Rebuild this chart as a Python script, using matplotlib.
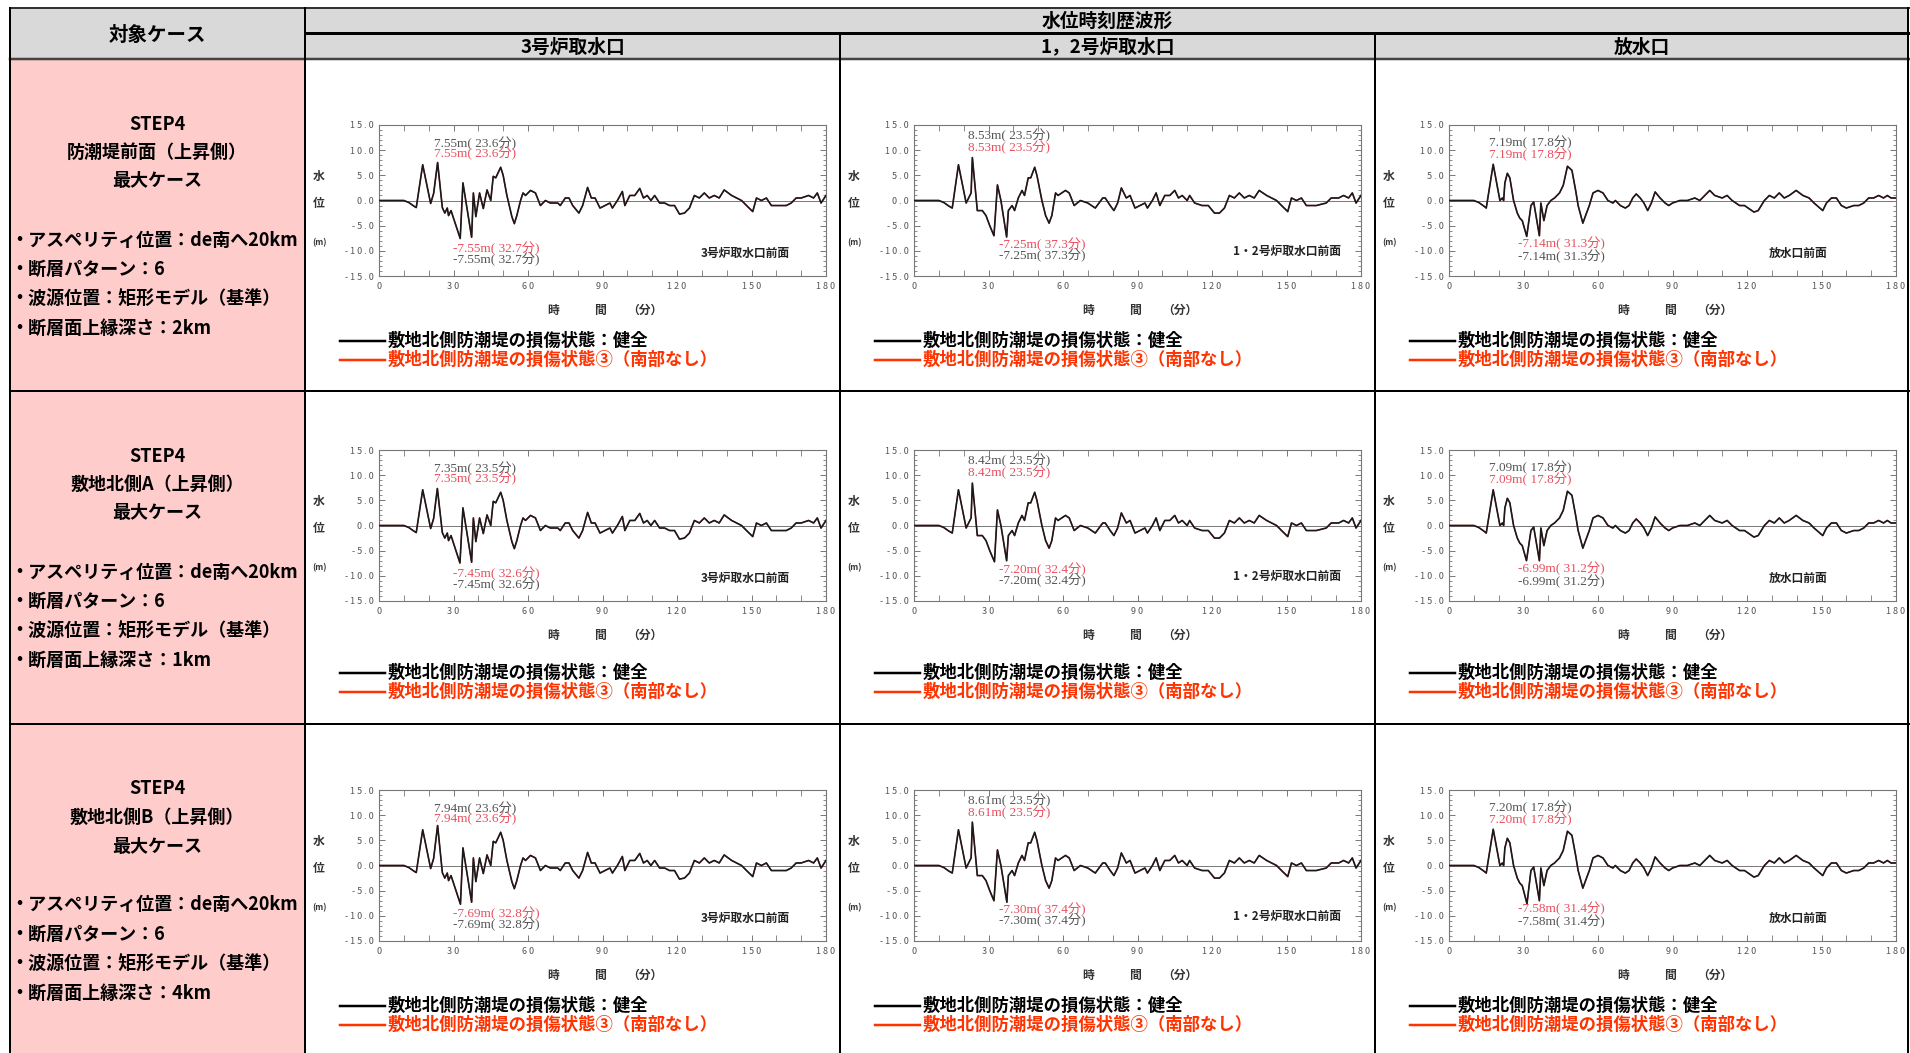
import numpy as np
import matplotlib.pyplot as plt
from matplotlib.ticker import MultipleLocator, FuncFormatter

plt.rcParams['font.family'] = ['Noto Sans CJK JP', 'DejaVu Sans']

W, H = 1910, 1053

# Table text
col_headers = ["3号炉取水口", "1，2号炉取水口", "放水口"]
place_labels = ["3号炉取水口前面", "1・2号炉取水口前面", "放水口前面"]
case_names = ["防潮堤前面（上昇側）", "敷地北側A（上昇側）", "敷地北側B（上昇側）"]
case_depths = ["2km", "1km", "4km"]
legend_labels = ["敷地北側防潮堤の損傷状態：健全", "敷地北側防潮堤の損傷状態③（南部なし）"]

# Water level traces (min, m), one per location
intake3_time = [0, 10, 12, 14, 15, 17.6, 20.8, 22, 23.6, 25.5, 26.5, 27.5, 28, 29, 32.7, 33.8,
                37.3, 38, 39, 40.5, 42, 43.5, 45, 46, 47, 49, 50, 51.5, 53.5, 54.5, 55.5, 57,
                58, 59, 61, 63, 65, 67, 69, 72, 73, 75, 76.5, 78, 80.5, 82, 84, 85.5, 87, 89,
                91, 93, 94, 96, 98, 99, 101, 103, 105, 106.5, 108, 109.5, 111, 113, 115, 117,
                119, 121, 123, 125, 127, 129, 131, 133, 135, 137, 139, 142, 144, 146, 148,
                150.5, 152, 154, 156, 158, 160, 162, 164, 166, 168, 170, 173, 175, 176.5, 178, 180]
intake3_level = [0, 0, -0.4, -1.1, -1.4, 7.1, -0.6, 1.4, 7.5, -1.4, -2.5, -1.5, -3.0, -2.0, -7.4, 3.5,
                 -7.3, 1.5, -3.2, 1.5, -1.6, 2.1, 0, 4.8, 4.5, 6.6, 5.0, 1.0, -3.2, -4.6, -3.0, 0,
                 1.5, 1.0, 2.0, 1.5, -1.0, 0, -0.5, -0.5, -1.0, 0.5, 0.5, -1.0, -2.5, -1.0, 2.6, 0.5, 0.5, -1.5,
                 -1.0, -0.5, -1.5, 0, 1.8, -1.0, 1.0, 1.0, 2.4, 0.5, 1.0, 0, 1.0, -0.5, -0.5, -1.0,
                 -1.0, -2.7, -2.5, -1.5, 1.0, 0.5, 1.5, 0.5, 1.0, 0.5, 2.1, 1.0, 0.5, 0, -1.0,
                 -2.2, 0.5, 0, 0.5, -1.0, -1.0, -1.0, -1.0, -0.5, 0.5, 0.5, 1.0, 0.5, 1.5, -0.5, 1.0]

intake12_time = [0, 10, 12, 14, 15.4, 17.9, 21, 22.5, 23, 23.5, 25.5, 27.5, 29, 30.5, 32.2, 33.6,
                 35, 37.3, 38, 39.5, 40.5, 42, 43.5, 44.5, 46, 47, 48.6, 49.5, 51.5, 53, 54.4,
                 55.5, 57, 58, 61, 62.5, 64.5, 67, 70, 73, 76, 77, 79, 80.5, 82, 83.5, 85.5, 87,
                 89, 91, 93, 94, 96, 97.5, 99, 101, 103, 105, 106.5, 108, 110, 111, 113, 116,
                 118.5, 121, 123, 125, 127, 129, 131, 133, 135, 137, 139, 142, 144, 146, 148,
                 150.5, 152, 154, 156, 158, 162, 166, 168, 171, 173, 175, 176.5, 178, 180]
intake12_level = [0, 0, -0.4, -1.1, -1.5, 7.1, -0.5, 1.0, 1.5, 8.5, -2.0, -2.0, -3.0, -5.0, -7.0, 3.1,
                  0, -7.0, -2.0, -1.0, -2.0, 0.5, 2.0, 1.0, 4.5, 4.5, 6.6, 5.0, 0, -3.0, -4.5,
                  -3.0, 1.5, 1.0, 2.0, 1.5, -1.0, 0, -0.5, -1.5, 0.5, 0.5, -1.0, -2.0, -0.5, 2.5, 0.5, 1.0,
                  -1.5, -1.0, -0.5, -1.5, 0, 1.5, -1.0, 1.0, 1.0, 2.0, 0.5, 1.0, 0, 1.0, -0.5, -1.0,
                  -1.0, -2.5, -2.5, -1.5, 1.0, 0.5, 1.5, 0.5, 1.0, 0.5, 2.0, 1.0, 0.5, 0, -1.0,
                  -2.2, 0.5, 0, 0.5, -1.0, -1.0, -0.5, 0.5, 0.5, 1.0, 0.5, 1.5, -0.5, 1.0]

outlet_time = [0, 10, 12, 14, 15, 17.8, 20.5, 21.5, 22, 22.5, 23.5, 24.5, 26, 27.5, 28.5, 29.5,
               31.3, 33, 34.1, 36.4, 37, 38.2, 39.5, 41, 42.5, 44.5, 46, 47.7, 49.5, 51, 52,
               53.9, 55, 56.5, 58, 60, 62, 64, 66, 67, 69, 71, 72.5, 74, 75.4, 77, 78.5, 80,
               81.5, 83, 85, 87, 88.5, 90, 93, 96, 99, 101, 103, 105, 107, 110, 112, 114, 117,
               119, 122.8, 124.5, 127, 129, 131, 133, 135, 137, 139.8, 142.5, 145, 147, 150.5,
               152, 154, 156, 158, 160, 163, 165, 167, 169, 171, 173, 175, 176.5, 178, 180]
outlet_level = [0, 0, -0.4, -1.1, -1.5, 7.1, 0, 0.5, 0, 3.5, 5.4, 4.5, 0, -2.5, -3.5, -4.0,
                -7.0, -1.0, -0.3, -7.0, -0.5, -4.0, -1.0, 0, 0.5, 1.5, 3.0, 6.8, 6.0, 2.0, -1.0,
                -4.5, -3.0, -1.0, 1.5, 2.0, 1.5, 0, -0.5, 0, -1.0, -1.5, -1.0, 0.5, 1.3, 0.5, -0.5, -2.0,
                -0.5, 1.7, 0.5, -0.5, -1.0, -0.5, 0, 0, 0.5, 0, 1.0, 2.0, 1.0, 0.5, 1.0, 0, -1.0,
                -1.0, -2.3, -2.0, 0, 1.0, 0.5, 1.5, 0.5, 1.0, 2.0, 1.0, 0.5, -0.5, -2.0,
                -0.5, 0.5, 0.5, -1.0, -1.5, -1.0, -1.0, -0.5, 0.5, 0.5, 1.0, 0.5, 1.0, 0.5, 0.5]

trace_times = [intake3_time, intake12_time, outlet_time]
trace_levels = [intake3_level, intake12_level, outlet_level]

# Annotated extremes per case (rows) and location (columns): (level, minute)
max_level = [[7.55, 8.53, 7.19], [7.35, 8.42, 7.09], [7.94, 8.61, 7.20]]
max_time = [[23.6, 23.5, 17.8], [23.5, 23.5, 17.8], [23.6, 23.5, 17.8]]
min_level = [[-7.55, -7.25, -7.14], [-7.45, -7.20, -6.99], [-7.69, -7.30, -7.58]]
min_time = [[32.7, 37.3, 31.3], [32.6, 32.4, 31.2], [32.8, 37.4, 31.4]]

# Layout (pixels)
col_x = [10, 305, 840, 1375, 1909]
row_y = [59, 391, 724, 1057]
chart_top = [66, 59, 66]
ann_max_pos = [(22.3, 11.4, 9.4), (21.7, 13.0, 10.6), (16.1, 11.5, 9.2)]
ann_min_pos = [(29.6, -9.6, -11.7), (34.3, -8.7, -11.0), (27.7, -8.6, -11.1)]
place_pos = [(0.82, 0.15), (0.834, 0.16), (0.78, 0.15)]

GRAY_TXT = "#555555"
RED_TXT = "#e8505f"
LEG_RED = "#ff3300"

fig = plt.figure(figsize=(W / 100, H / 100), dpi=100)
bg = fig.add_axes([0, 0, 1, 1])
bg.set_xlim(0, W)
bg.set_ylim(H, 0)
bg.axis("off")

# Table background
bg.add_patch(plt.Rectangle((col_x[0], 8), col_x[-1] - col_x[0], 51, color="#d9d9d9", lw=0))
bg.add_patch(plt.Rectangle((col_x[0], 59), col_x[1] - col_x[0], H, color="#ffcccc", lw=0))

lw = 0.72
bg.plot([col_x[0], col_x[-1]], [8, 8], color="#333333", lw=2 * lw)
bg.plot([col_x[1], col_x[-1]], [33, 33], color="black", lw=3 * lw)
bg.plot([col_x[0], col_x[-1]], [59, 59], color="#444444", lw=2.5 * lw)
for y in row_y[1:3]:
    bg.plot([col_x[0], col_x[-1]], [y, y], color="black", lw=2 * lw)
bg.plot([col_x[0], col_x[0]], [8, H], color="black", lw=2 * lw)
bg.plot([col_x[-1] - 1, col_x[-1] - 1], [8, H], color="black", lw=2 * lw)
bg.plot([col_x[1], col_x[1]], [8, H], color="black", lw=2 * lw)
for x in col_x[2:4]:
    bg.plot([x, x], [33, H], color="black", lw=2 * lw)

# Header text
bg.text((col_x[0] + col_x[1]) / 2, 35, "対象ケース", ha="center", va="center",
        fontsize=14, fontweight="bold")
bg.text((col_x[1] + col_x[-1]) / 2, 21, "水位時刻歴波形", ha="center", va="center",
        fontsize=13.5, fontweight="bold")
for c in range(3):
    bg.text((col_x[c + 1] + col_x[c + 2]) / 2, 47, col_headers[c], ha="center",
            va="center", fontsize=13.5, fontweight="bold")

# Case descriptions
for r in range(3):
    top = row_y[r]
    for k, line in enumerate(["STEP4", case_names[r], "最大ケース"]):
        bg.text(157, top + 65 + k * 28.5, line, ha="center", va="center",
                fontsize=13, fontweight="bold")
    bullets = ["・アスペリティ位置：de南へ20km", "・断層パターン：6",
               "・波源位置：矩形モデル（基準）", "・断層面上縁深さ：" + case_depths[r]]
    for k, line in enumerate(bullets):
        bg.text(10, top + 181 + k * 29.5, line, ha="left", va="center",
                fontsize=13, fontweight="bold")


def spaced(v, pos):
    return " ".join(f"{v:.1f}")


def spaced_int(v, pos):
    return " ".join(f"{v:.0f}")


serif = ["Liberation Serif", "Noto Sans CJK JP"]

for r in range(3):
    for c in range(3):
        left = col_x[c + 1] + 74
        top = row_y[r] + chart_top[r]
        aw, ah = 447, 151
        ax = fig.add_axes([left / W, 1 - (top + ah) / H, aw / W, ah / H])

        t = list(trace_times[c])
        v = list(trace_levels[c])
        i = int(np.argmin(np.abs(np.array(t) - max_time[r][c])))
        t[i], v[i] = max_time[r][c], max_level[r][c]
        j = int(np.argmin(np.abs(np.array(t) - min_time[r][c])))
        t[j], v[j] = min_time[r][c], min_level[r][c]

        ax.axhline(0, color="#777777", lw=0.7, zorder=1)
        ax.plot(t, v, color="#e03040", lw=0.9, zorder=2)
        ax.plot(t, v, color="#1a1a1a", lw=1.2, zorder=3)

        ax.set_xlim(0, 180)
        ax.set_ylim(-15, 15)
        ax.xaxis.set_major_locator(MultipleLocator(30))
        ax.xaxis.set_minor_locator(MultipleLocator(10))
        ax.yaxis.set_major_locator(MultipleLocator(5))
        ax.yaxis.set_minor_locator(MultipleLocator(1))
        ax.xaxis.set_major_formatter(FuncFormatter(spaced_int))
        ax.yaxis.set_major_formatter(FuncFormatter(spaced))
        ax.tick_params(which="both", direction="in", top=True, right=True,
                       color="#777777", labelsize=6.5, labelcolor=GRAY_TXT, pad=4)
        ax.tick_params(which="major", length=4, width=0.7)
        ax.tick_params(which="minor", length=2.5, width=0.6)
        ax.tick_params(axis="x", which="minor", length=4)
        for s in ax.spines.values():
            s.set_color("#777777")
            s.set_linewidth(0.8)

        # extreme value labels
        tx, gy, ry = ann_max_pos[c]
        txt = f"{max_level[r][c]:.2f}m( {max_time[r][c]:.1f}分)"
        ax.text(tx, gy, txt, color=GRAY_TXT, fontsize=9.5, family=serif, va="center")
        ax.text(tx, ry, txt, color=RED_TXT, fontsize=9.5, family=serif, va="center")
        tx, ry, gy = ann_min_pos[c]
        txt = f"{min_level[r][c]:.2f}m( {min_time[r][c]:.1f}分)"
        ax.text(tx, ry, txt, color=RED_TXT, fontsize=9.5, family=serif, va="center")
        ax.text(tx, gy, txt, color=GRAY_TXT, fontsize=9.5, family=serif, va="center")

        px, py = place_pos[c]
        ax.text(px, py, place_labels[c], transform=ax.transAxes, ha="center",
                va="center", fontsize=8.5, fontweight="bold", color="#222222")

        # axis labels
        for ch, fy, fs in [("水", 0.66, 8.5), ("位", 0.48, 8.5), ("(m)", 0.22, 6)]:
            ax.text(-60 / aw, fy, ch, transform=ax.transAxes, ha="center", va="center",
                    fontsize=fs, fontweight="bold", color="#333333")
        for ch, fx in [("時", 0.39), ("間", 0.495), ("（分）", 0.595)]:
            ax.text(fx, -34 / ah, ch, transform=ax.transAxes, ha="center", va="center",
                    fontsize=8.5, fontweight="bold", color="#333333")

        # legend
        lx = col_x[c + 1]
        for k, (lab, colr) in enumerate(zip(legend_labels, ["black", LEG_RED])):
            yy = row_y[r] + 282 + k * 19
            bg.plot([lx + 35, lx + 80], [yy, yy], color=colr, lw=2.5 * lw)
            bg.text(lx + 83, yy, lab, ha="left", va="center", fontsize=12.5,
                    fontweight="bold", color=colr)

fig.savefig("out.png", dpi=100)
